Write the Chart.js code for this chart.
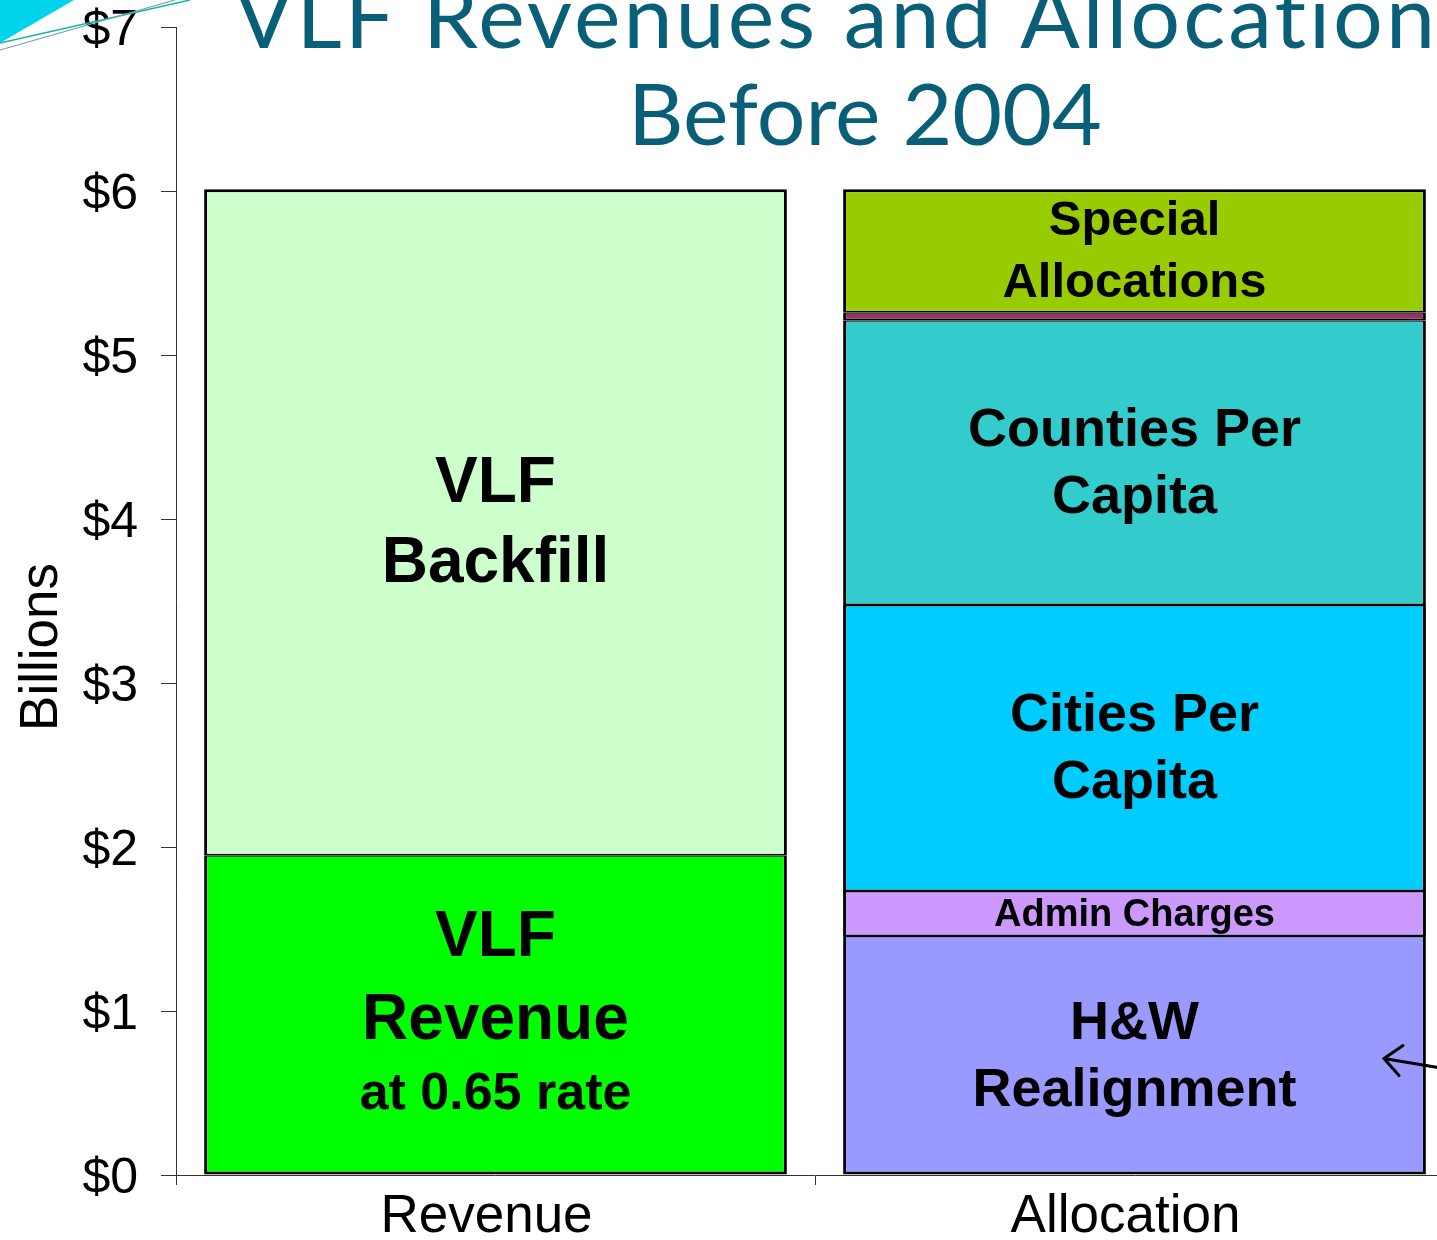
<!DOCTYPE html>
<html>
<head>
<meta charset="utf-8">
<script src="https://cdn.jsdelivr.net/npm/chart.js@4.4.1/dist/chart.umd.min.js"></script>
<style>
  html, body { margin: 0; padding: 0; background: #fff; overflow: hidden; }
  #wrap { position: relative; width: 1454px; height: 1240px; }
  #deco { position: absolute; left: 0; top: 0; }
</style>
</head>
<body>
<div id="wrap">
  <canvas id="vlfChart" width="1454" height="1240"></canvas>
  <svg id="deco" width="200" height="60">
    <polygon points="0,0 74,0 0,43" fill="#00d4ec"/>
    <line x1="0" y1="43" x2="190" y2="0" stroke="#19b3a4" stroke-width="1.5"/>
    <line x1="0" y1="50" x2="175" y2="0" stroke="#6fa0b8" stroke-width="1.2"/>
  </svg>
</div>
<script>
// values in $ billions
const categories = ["Revenue", "Allocation"];
const revenueSegments = ["VLF Revenue", "VLF Backfill"];
const revenueValues = [1.95, 4.06];
const allocationSegments = ["H&W Realignment", "Admin Charges", "Cities Per Capita", "Counties Per Capita", "Other", "Special Allocations"];
const allocationValues = [1.457, 0.275, 1.744, 1.736, 0.048, 0.75];
const yTickValues = [0, 1, 2, 3, 4, 5, 6, 7];

// text shown inside each segment
const revenueLabels = [["VLF", "Revenue", "at 0.65 rate"], ["VLF", "Backfill"]];
const allocationLabels = [["H&W", "Realignment"], ["Admin Charges"], ["Cities Per", "Capita"], ["Counties Per", "Capita"], [], ["Special", "Allocations"]];

// styles
const revenueColors = ["#00ff00", "#ccffcc"];
const allocationColors = ["#9999ff", "#cc99ff", "#00ccff", "#33cccc", "#993366", "#99cc00"];
const labelStyles = {
  "VLF Revenue": { sizes: [64, 64, 52], gaps: [83, 73] },
  "VLF Backfill": { sizes: [64, 64], gaps: [80] },
  "H&W Realignment": { sizes: [54, 54], gaps: [67] },
  "Admin Charges": { sizes: [38], gaps: [] },
  "Cities Per Capita": { sizes: [54, 54], gaps: [67] },
  "Counties Per Capita": { sizes: [54, 54], gaps: [67] },
  "Other": { sizes: [], gaps: [] },
  "Special Allocations": { sizes: [49, 49], gaps: [62] }
};
const sansFont = "'Liberation Sans', Arial, sans-serif";

const datasets = [];
function addStack(names, values, colors, labels, idx) {
  names.forEach((name, i) => {
    const data = [null, null];
    data[idx] = values[i];
    datasets.push({
      label: name,
      data: data,
      backgroundColor: colors[i],
      lines: labels[i],
      borderColor: "#000",
      borderWidth: {
        left: 3, right: 3,
        top: i === names.length - 1 ? 3 : 1.5,
        bottom: i === 0 ? 3 : 1.5
      },
      borderSkipped: false,
      inflateAmount: 0,
      barPercentage: 0.912,
      categoryPercentage: 1.0
    });
  });
}
addStack(revenueSegments, revenueValues, revenueColors, revenueLabels, 0);
addStack(allocationSegments, allocationValues, allocationColors, allocationLabels, 1);

const segmentText = {
  id: "segmentText",
  afterDatasetsDraw(chart) {
    const ctx = chart.ctx;
    ctx.save();
    ctx.fillStyle = "#000";
    ctx.textAlign = "center";
    ctx.textBaseline = "middle";
    chart.data.datasets.forEach((ds, di) => {
      const style = labelStyles[ds.label];
      if (!ds.lines.length) return;
      const meta = chart.getDatasetMeta(di);
      meta.data.forEach((bar, idx) => {
        if (ds.data[idx] == null) return;
        const mid = (bar.y + bar.base) / 2;
        const offs = [0];
        style.gaps.forEach(g => offs.push(offs[offs.length - 1] + g));
        const shift = offs[offs.length - 1] / 2;
        ds.lines.forEach((line, li) => {
          ctx.font = "bold " + style.sizes[li] + "px " + sansFont;
          ctx.fillText(line, bar.x, mid - shift + offs[li] + 2);
        });
      });
    });
    // hand-drawn arrow at the right of the H&W block
    const ys = chart.scales.y;
    const right = chart.chartArea.right;
    const tipX = right - 70, tipY = ys.getPixelForValue(0.71);
    ctx.strokeStyle = "#000";
    ctx.lineWidth = 3;
    ctx.lineCap = "round";
    ctx.beginPath();
    ctx.moveTo(right - 10, ys.getPixelForValue(0.65));
    ctx.lineTo(tipX, tipY);
    ctx.moveTo(tipX + 19, tipY - 13);
    ctx.lineTo(tipX, tipY);
    ctx.lineTo(tipX + 15, tipY + 17);
    ctx.stroke();
    ctx.restore();
  },
  afterDraw(chart) {
    const ctx = chart.ctx;
    const ys = chart.scales.y;
    ctx.save();
    // y axis title
    ctx.translate(57, (ys.top + ys.bottom) / 2 + 46);
    ctx.rotate(-Math.PI / 2);
    ctx.fillStyle = "#000";
    ctx.textAlign = "center";
    ctx.textBaseline = "alphabetic";
    ctx.font = "53px " + sansFont;
    ctx.fillText("Billions", 0, 0);
    ctx.restore();

    ctx.save();
    ctx.fillStyle = "#0a5f78";
    ctx.textBaseline = "alphabetic";
    ctx.font = "88px Lato, 'Open Sans', sans-serif";
    ctx.letterSpacing = "3px";
    ctx.textAlign = "left";
    ctx.fillText("VLF Revenues and Allocat\u200Cion", 234, 48);
    ctx.letterSpacing = "0px";
    ctx.font = "86px Lato, 'Open Sans', sans-serif";
    ctx.textAlign = "center";
    ctx.fillText("Before 2004", 865, 145);
    ctx.restore();
  }
};

new Chart(document.getElementById("vlfChart").getContext("2d"), {
  type: "bar",
  data: { labels: categories, datasets: datasets },
  options: {
    responsive: false,
    animation: false,
    layout: { padding: { top: 27, left: 0, right: 0, bottom: 0 } },
    plugins: { legend: { display: false }, tooltip: { enabled: false } },
    scales: {
      x: {
        stacked: true,
        afterFit: s => { s.height = 65; },
        grid: { drawOnChartArea: false, tickLength: 10, color: "#333", lineWidth: 1 },
        border: { color: "#333", width: 1 },
        ticks: { color: "#000", padding: 6, labelOffset: -9, font: { family: sansFont, size: 53, lineHeight: 1 } }
      },
      y: {
        stacked: true,
        min: 0,
        max: 7,
        afterFit: s => { s.width = 176; s.paddingTop = 0; s.paddingBottom = 0; },
        afterBuildTicks: s => { s.ticks = yTickValues.map(v => ({ value: v })); },
        grid: { drawOnChartArea: false, tickLength: 15, color: "#333", lineWidth: 1 },
        border: { color: "#333", width: 1 },
        ticks: {
          color: "#000",
          padding: 23,
          labelOffset: 4,
          font: { family: sansFont, size: 50, lineHeight: 1 },
          callback: v => "$" + v
        }
      }
    }
  },
  plugins: [segmentText]
});
</script>
</body>
</html>
